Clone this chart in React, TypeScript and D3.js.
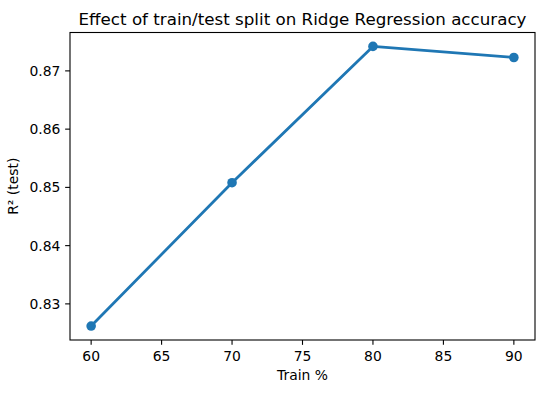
import * as d3 from "d3";
import { useEffect, useRef } from "react";

const trainPct = [60, 70, 80, 90];
const r2Test = [0.8262, 0.8508, 0.8742, 0.8723];
const xTicks = [60, 65, 70, 75, 80, 85, 90];
const yTicks = [0.83, 0.84, 0.85, 0.86, 0.87];

const W = 545;
const H = 393;
const FONT = "DejaVu Sans, sans-serif";

export default function App() {
  const svgRef = useRef<SVGSVGElement | null>(null);

  useEffect(() => {
    const margin = { top: 32.5, right: 10, bottom: 53, left: 70 };
    const w = W - margin.left - margin.right;
    const h = H - margin.top - margin.bottom;

    const x = d3.scaleLinear().domain([58.5, 91.5]).range([0, w]);
    const y = d3.scaleLinear().domain([0.8238, 0.87659]).range([h, 0]);

    const svg = d3.select(svgRef.current);
    svg.selectAll("*").remove();

    const g = svg
      .append("g")
      .attr("transform", `translate(${margin.left},${margin.top})`);

    const pts = trainPct.map((v, i) => ({ x: v, y: r2Test[i] }));

    const line = d3
      .line<{ x: number; y: number }>()
      .x((d) => x(d.x))
      .y((d) => y(d.y));

    g.append("path")
      .datum(pts)
      .attr("fill", "none")
      .attr("stroke", "#1f77b4")
      .attr("stroke-width", 2.78)
      .attr("stroke-linejoin", "round")
      .attr("stroke-linecap", "square")
      .attr("d", line);

    g.selectAll("circle")
      .data(pts)
      .enter()
      .append("circle")
      .attr("cx", (d) => x(d.x))
      .attr("cy", (d) => y(d.y))
      .attr("r", 4.8)
      .attr("fill", "#1f77b4");

    // frame
    g.append("rect")
      .attr("width", w)
      .attr("height", h)
      .attr("fill", "none")
      .attr("stroke", "#000")
      .attr("stroke-width", 1.1);

    // x ticks
    const xt = g
      .selectAll(".xt")
      .data(xTicks)
      .enter()
      .append("g")
      .attr("transform", (d) => `translate(${x(d)},${h})`);
    xt.append("line").attr("y2", 4.86).attr("stroke", "#000").attr("stroke-width", 1.1);
    xt.append("text")
      .attr("y", 21)
      .attr("text-anchor", "middle")
      .attr("font-family", FONT)
      .attr("font-size", 13.9)
      .text((d) => d);

    // y ticks
    const yt = g
      .selectAll(".yt")
      .data(yTicks)
      .enter()
      .append("g")
      .attr("transform", (d) => `translate(0,${y(d)})`);
    yt.append("line").attr("x2", -4.86).attr("stroke", "#000").attr("stroke-width", 1.1);
    yt.append("text")
      .attr("x", -9.7)
      .attr("y", 5)
      .attr("text-anchor", "end")
      .attr("font-family", FONT)
      .attr("font-size", 13.9)
      .text((d) => d.toFixed(2));

    // labels
    svg
      .append("text")
      .attr("x", margin.left + w / 2)
      .attr("y", 379.5)
      .attr("text-anchor", "middle")
      .attr("font-family", FONT)
      .attr("font-size", 13.9)
      .text("Train %");

    svg
      .append("text")
      .attr("transform", `translate(18,${margin.top + h / 2}) rotate(-90)`)
      .attr("text-anchor", "middle")
      .attr("font-family", FONT)
      .attr("font-size", 13.9)
      .text("R² (test)");

    svg
      .append("text")
      .attr("x", margin.left + w / 2)
      .attr("y", 24.5)
      .attr("text-anchor", "middle")
      .attr("font-family", FONT)
      .attr("font-size", 16.7)
      .text("Effect of train/test split on Ridge Regression accuracy");
  }, []);

  return (
    <svg
      ref={svgRef}
      width={W}
      height={H}
      style={{ position: "absolute", left: 0, top: 0, background: "#fff" }}
    ></svg>
  );
}
